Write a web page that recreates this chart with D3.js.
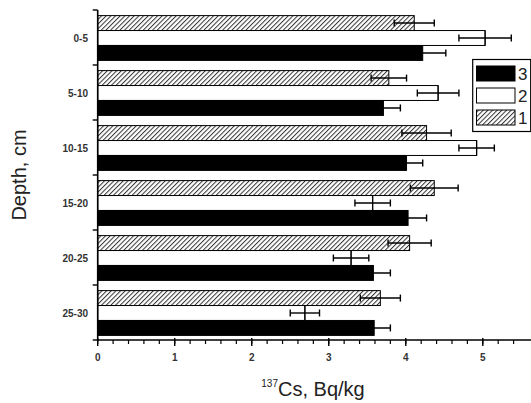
<!DOCTYPE html>
<html>
<head>
<meta charset="utf-8">
<script src="https://cdn.jsdelivr.net/npm/d3@7"></script>
<style>
  body { margin: 0; background: #fff; }
  svg { display: block; }
</style>
</head>
<body>
<div id="chart"></div>
<script>
const depths = ["0-5", "5-10", "10-15", "15-20", "20-25", "25-30"];
const seriesNames = ["1", "2", "3"];
const values1 = [4.11, 3.78, 4.27, 4.37, 4.05, 3.67];
const errors1 = [0.26, 0.23, 0.32, 0.31, 0.28, 0.26];
const values2 = [5.03, 4.42, 4.92, 3.57, 3.29, 2.69];
const errors2 = [0.34, 0.27, 0.23, 0.23, 0.23, 0.19];
const values3 = [4.22, 3.71, 4.01, 4.03, 3.58, 3.59];
const errors3 = [0.30, 0.22, 0.21, 0.24, 0.22, 0.21];
const xTicks = [0, 1, 2, 3, 4, 5];

const width = 531, height = 403;
const svg = d3.select("#chart").append("svg")
    .attr("width", width)
    .attr("height", height);

// hatch pattern for series 1
svg.append("defs").append("pattern")
    .attr("id", "hatch")
    .attr("patternUnits", "userSpaceOnUse")
    .attr("width", 3.3)
    .attr("height", 3.3)
    .attr("patternTransform", "rotate(45)")
    .call(p => {
        p.append("rect").attr("width", 3.3).attr("height", 3.3).attr("fill", "#fff");
        p.append("line").attr("x1", 0).attr("y1", 0).attr("x2", 0).attr("y2", 3.3)
            .attr("stroke", "#333").attr("stroke-width", 2);
    });

const fills = { "1": "url(#hatch)", "2": "#fff", "3": "#000" };

const x = d3.scaleLinear().domain([0, 5.6]).range([97.7, 529]);
const y = d3.scaleBand().domain(depths).range([10, 340]);
const ySub = d3.scaleBand().domain(seriesNames).range([5.6, y.bandwidth() - 4.6]);

const rows = [];
depths.forEach((d, i) => {
    rows.push({ depth: d, s: "1", v: values1[i], e: errors1[i] });
    rows.push({ depth: d, s: "2", v: values2[i], e: errors2[i] });
    rows.push({ depth: d, s: "3", v: values3[i], e: errors3[i] });
});

// bars
svg.append("g").selectAll("rect")
    .data(rows)
    .enter()
    .append("rect")
    .attr("x", x(0))
    .attr("y", d => y(d.depth) + ySub(d.s))
    .attr("width", d => x(d.v) - x(0))
    .attr("height", ySub.bandwidth())
    .attr("fill", d => fills[d.s])
    .attr("stroke", "#000")
    .attr("stroke-width", 1);

// error bars
const eb = svg.append("g").attr("stroke", "#000").attr("stroke-width", 1.4);
rows.forEach(d => {
    const cy = y(d.depth) + ySub(d.s) + ySub.bandwidth() / 2;
    eb.append("line").attr("x1", x(d.v - d.e)).attr("x2", x(d.v + d.e)).attr("y1", cy).attr("y2", cy);
    eb.append("line").attr("x1", x(d.v - d.e)).attr("x2", x(d.v - d.e)).attr("y1", cy - 3.5).attr("y2", cy + 3.5);
    eb.append("line").attr("x1", x(d.v + d.e)).attr("x2", x(d.v + d.e)).attr("y1", cy - 3.5).attr("y2", cy + 3.5);
    if (d.s === "2") {
        eb.append("line").attr("x1", x(d.v)).attr("x2", x(d.v))
            .attr("y1", y(d.depth) + ySub(d.s)).attr("y2", y(d.depth) + ySub(d.s) + ySub.bandwidth())
            .attr("stroke-width", 1.2);
    }
});

// y axis
const yAxis = svg.append("g");
yAxis.append("line")
    .attr("x1", x(0)).attr("x2", x(0)).attr("y1", 10).attr("y2", 341)
    .attr("stroke", "#000").attr("stroke-width", 1.6);
const yBounds = depths.map(d => y(d)).concat([y(depths[depths.length - 1]) + y.bandwidth()]);
yAxis.selectAll(".yt")
    .data(yBounds)
    .enter()
    .append("line")
    .attr("x1", x(0) - 5).attr("x2", x(0))
    .attr("y1", d => d).attr("y2", d => d)
    .attr("stroke", "#000").attr("stroke-width", 1.4);
yAxis.selectAll("text")
    .data(depths)
    .enter()
    .append("text")
    .attr("x", 88)
    .attr("y", d => y(d) + y.bandwidth() / 2 + 4)
    .attr("text-anchor", "end")
    .attr("font-family", "Arial, 'Liberation Sans', sans-serif")
    .attr("font-size", 10)
    .attr("font-weight", "bold")
    .attr("fill", "#333")
    .text(d => d);

// x axis
const xAxis = svg.append("g");
xAxis.append("line")
    .attr("x1", x(0)).attr("x2", 531).attr("y1", 340).attr("y2", 340)
    .attr("stroke", "#000").attr("stroke-width", 1.6);
xAxis.selectAll(".minor")
    .data(d3.range(0, 28).map(i => i * 0.2))
    .enter()
    .append("line")
    .attr("x1", d => x(d)).attr("x2", d => x(d))
    .attr("y1", 340).attr("y2", 344)
    .attr("stroke", "#000").attr("stroke-width", 1.2);
xAxis.selectAll(".major")
    .data(xTicks)
    .enter()
    .append("line")
    .attr("x1", d => x(d)).attr("x2", d => x(d))
    .attr("y1", 338).attr("y2", 346)
    .attr("stroke", "#000").attr("stroke-width", 1.4);
xAxis.selectAll("text")
    .data(xTicks)
    .enter()
    .append("text")
    .attr("x", d => x(d))
    .attr("y", 361)
    .attr("text-anchor", "middle")
    .attr("font-family", "Arial, 'Liberation Sans', sans-serif")
    .attr("font-size", 10)
    .attr("font-weight", "bold")
    .attr("fill", "#333")
    .text(d => d);

// axis titles
const xTitle = svg.append("text")
    .attr("x", 313)
    .attr("y", 396)
    .attr("text-anchor", "middle")
    .attr("font-family", "Arial, 'Liberation Sans', sans-serif")
    .attr("font-size", 20)
    .attr("fill", "#222");
xTitle.append("tspan").attr("font-size", 10).attr("dy", -9).text("137");
xTitle.append("tspan").attr("dy", 9).text("Cs, Bq/kg");

svg.append("text")
    .attr("transform", "translate(26,175) rotate(-90)")
    .attr("text-anchor", "middle")
    .attr("font-family", "Arial, 'Liberation Sans', sans-serif")
    .attr("font-size", 20)
    .attr("fill", "#222")
    .text("Depth, cm");

// legend
const legend = svg.append("g");
legend.append("rect")
    .attr("x", 472.7).attr("y", 59.5).attr("width", 58).attr("height", 72)
    .attr("fill", "#fff").attr("stroke", "#000").attr("stroke-width", 1.2);
const legendOrder = ["3", "2", "1"];
legend.selectAll(".sw")
    .data(legendOrder)
    .enter()
    .append("rect")
    .attr("x", 476.5)
    .attr("y", (d, i) => 66 + i * 22)
    .attr("width", 38.5)
    .attr("height", 15)
    .attr("fill", d => fills[d])
    .attr("stroke", "#000")
    .attr("stroke-width", 1);
legend.selectAll("text")
    .data(legendOrder)
    .enter()
    .append("text")
    .attr("x", 518)
    .attr("y", (d, i) => 80 + i * 22)
    .attr("font-family", "Arial, 'Liberation Sans', sans-serif")
    .attr("font-size", 17)
    .attr("fill", "#222")
    .text(d => d);
</script>
</body>
</html>
